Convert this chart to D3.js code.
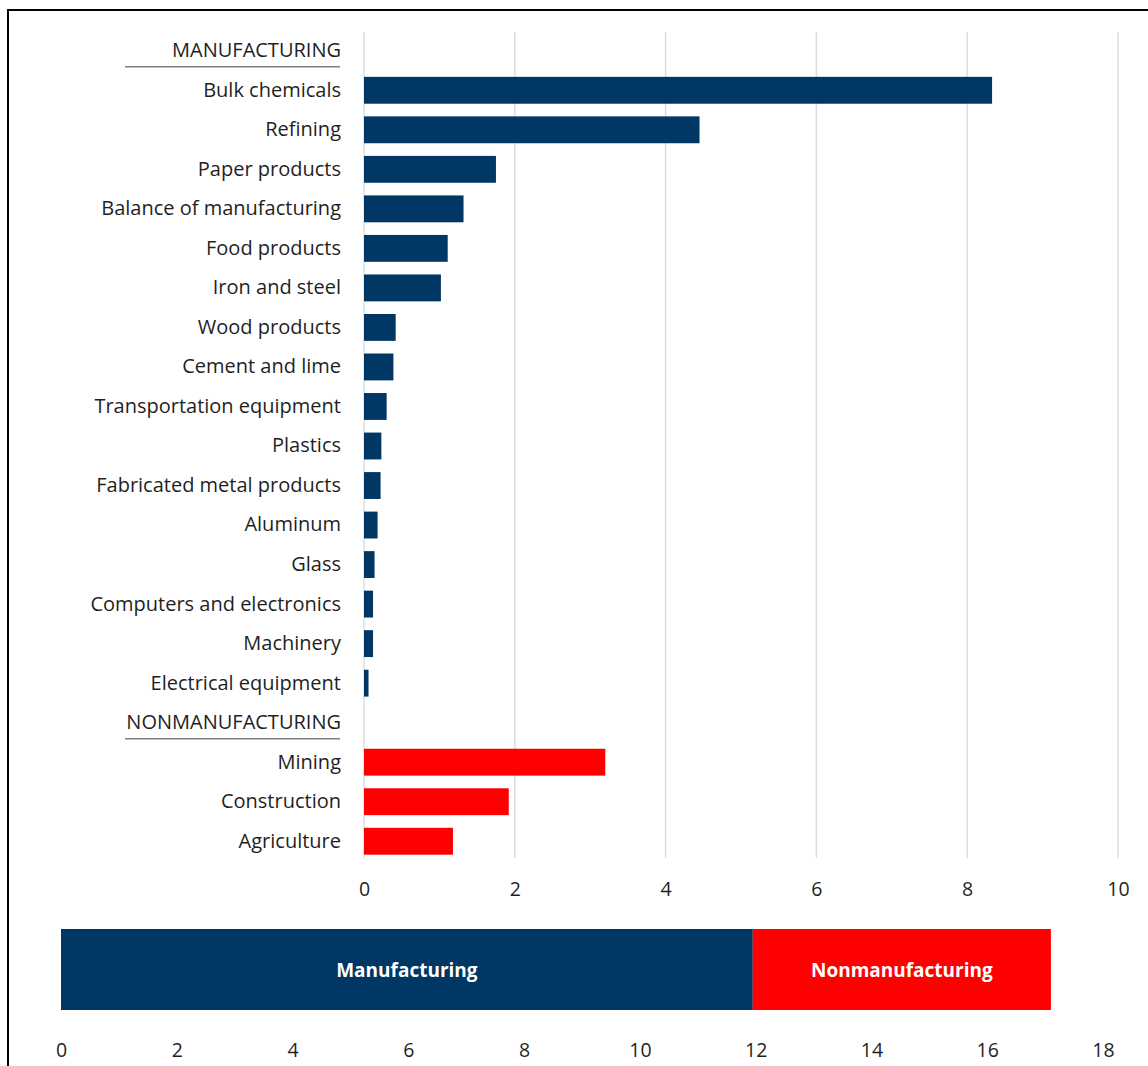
<!DOCTYPE html>
<html>
<head>
<meta charset="utf-8">
<script src="https://cdn.jsdelivr.net/npm/d3@7/dist/d3.min.js"></script>
<style>
  html, body { margin: 0; padding: 0; background: #fff; }
  svg { display: block; font-family: "Open Sans", Lato, sans-serif; }
</style>
</head>
<body>
<svg id="chart" width="1148" height="1066"></svg>
<script>
// Energy use by industry sector
const manufacturingLabel = "MANUFACTURING";
const manufacturingCategories = [
  "Bulk chemicals", "Refining", "Paper products", "Balance of manufacturing",
  "Food products", "Iron and steel", "Wood products", "Cement and lime",
  "Transportation equipment", "Plastics", "Fabricated metal products",
  "Aluminum", "Glass", "Computers and electronics", "Machinery",
  "Electrical equipment"
];
const manufacturingValues = [
  8.33, 4.45, 1.75, 1.32, 1.11, 1.02, 0.42, 0.39,
  0.30, 0.23, 0.22, 0.18, 0.14, 0.12, 0.12, 0.06
];
const nonmanufacturingLabel = "NONMANUFACTURING";
const nonmanufacturingCategories = ["Mining", "Construction", "Agriculture"];
const nonmanufacturingValues = [3.20, 1.92, 1.18];

// Totals for the stacked summary bar
const totalCategories = ["Manufacturing", "Nonmanufacturing"];
const totalValues = [11.95, 5.15];

const topTicks = [0, 2, 4, 6, 8, 10];
const bottomTicks = [0, 2, 4, 6, 8, 10, 12, 14, 16, 18];

const NAVY = "#003764";
const RED = "#ff0000";
const TEXT = "#1f1f1f";
const GRID = "#d6dfe8";
const FONT = "'Open Sans', Lato, sans-serif";

const svg = d3.select("#chart");

// Frame
svg.append("path")
  .attr("d", "M8,1066 L8,10 L1148,10")
  .attr("fill", "none")
  .attr("stroke", "#000")
  .attr("stroke-width", 2);

// Rows: header, manufacturing items, header, nonmanufacturing items
const rows = [
  { key: manufacturingLabel, header: true },
  ...manufacturingCategories.map((c, i) => ({ key: c, value: manufacturingValues[i], color: NAVY })),
  { key: nonmanufacturingLabel, header: true },
  ...nonmanufacturingCategories.map((c, i) => ({ key: c, value: nonmanufacturingValues[i], color: RED }))
];

const x = d3.scaleLinear().domain([0, 10]).range([364, 1118]);
const y = d3.scaleBand().domain(rows.map(r => r.key)).range([31, 861]).paddingInner(0.32).paddingOuter(0.16);

// Vertical gridlines
svg.append("g").selectAll("line")
  .data(topTicks)
  .join("line")
  .attr("x1", d => x(d)).attr("x2", d => x(d))
  .attr("y1", 32).attr("y2", 858)
  .attr("stroke", GRID)
  .attr("stroke-width", 1.5);

// Value axis of the detail chart
const xAxis = d3.axisBottom(x).tickValues(topTicks).tickSize(0).tickPadding(0).tickFormat(d3.format("d"));
const gx = svg.append("g").attr("transform", "translate(0,882)").call(xAxis);
gx.select(".domain").remove();
gx.selectAll("text").attr("font-size", 19.5).attr("fill", TEXT).attr("font-family", FONT);

// Bars
svg.append("g").selectAll("rect")
  .data(rows.filter(r => !r.header))
  .join("rect")
  .attr("x", x(0))
  .attr("y", d => y(d.key))
  .attr("width", d => x(d.value) - x(0))
  .attr("height", y.bandwidth())
  .attr("fill", d => d.color);

// Category labels
const yAxis = d3.axisLeft(y).tickSize(0).tickPadding(23);
const gy = svg.append("g").attr("transform", `translate(${x(0)},0)`).call(yAxis);
gy.select(".domain").remove();
gy.selectAll("text")
  .attr("font-size", 20)
  .attr("fill", TEXT)
  .attr("font-family", FONT);

// Underlines beneath section headers
svg.append("g").selectAll("line")
  .data(rows.filter(r => r.header))
  .join("line")
  .attr("x1", 125).attr("x2", 340)
  .attr("y1", d => y(d.key) + y.bandwidth() / 2 + 16)
  .attr("y2", d => y(d.key) + y.bandwidth() / 2 + 16)
  .attr("stroke", "#7f7f7f")
  .attr("stroke-width", 1.5);

// Summary stacked bar
const x2 = d3.scaleLinear().domain([0, 18]).range([61, 1103]);
const starts = d3.cumsum([0, ...totalValues]);
const segs = totalCategories.map((c, i) => ({ key: c, x0: starts[i], x1: starts[i + 1], color: i === 0 ? NAVY : RED }));

const seg = svg.append("g").selectAll("g").data(segs).join("g");
seg.append("rect")
  .attr("x", d => x2(d.x0))
  .attr("width", d => x2(d.x1) - x2(d.x0))
  .attr("y", 929)
  .attr("height", 81)
  .attr("fill", d => d.color);
seg.append("text")
  .attr("x", d => (x2(d.x0) + x2(d.x1)) / 2)
  .attr("y", 970)
  .attr("dy", "0.35em")
  .attr("text-anchor", "middle")
  .attr("fill", "#fff")
  .attr("font-weight", "bold")
  .attr("font-size", 19)
  .attr("font-family", FONT)
  .text(d => d.key);

const x2Axis = d3.axisBottom(x2).tickValues(bottomTicks).tickSize(0).tickPadding(0).tickFormat(d3.format("d"));
const gx2 = svg.append("g").attr("transform", "translate(0,1043)").call(x2Axis);
gx2.select(".domain").remove();
gx2.selectAll("text").attr("font-size", 19.5).attr("fill", TEXT).attr("font-family", FONT);
</script>
</body>
</html>
